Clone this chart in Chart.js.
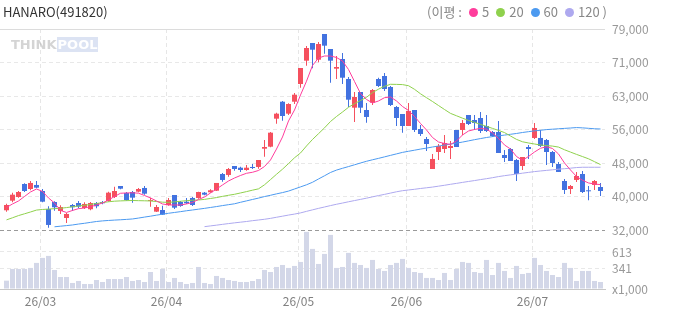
<!DOCTYPE html>
<html>
<head>
<meta charset="utf-8">
<script src="https://cdn.jsdelivr.net/npm/chart.js@4.4.1/dist/chart.umd.min.js"></script>
<style>
html, body { margin: 0; padding: 0; background: #fff; }
#wrap { position: relative; width: 673px; height: 315px; font-family: 'Noto Sans CJK KR', 'Noto Sans', sans-serif; }
#title { position: absolute; left: 3px; top: 2px; font-size: 13px; color: #333; }
#legend { position: absolute; right: 66px; top: 2px; font-size: 13px; color: #888; white-space: nowrap; }
#legend i { display: inline-block; width: 9px; height: 9px; border-radius: 50%; margin: 0 4px 0 7px; }
#logo { position: absolute; left: 11px; top: 37px; font: 900 13px 'DejaVu Sans', sans-serif; opacity: 0.5; }
#logo b { color: #a9a9a9; }
#logo span { color: #fff; background: #b9c8e8; padding: 0 1px; }
</style>
</head>
<body>
<div id="wrap">
    <canvas id="stockChart"></canvas>
    <div id="title">HANARO(491820)</div>
    <div id="legend"></div>
    <div id="logo"><b>THINK</b><span>POOL</span></div>
</div>
<script>
// daily candles, index 0 = first trading day shown
const opens = [36610,38860,39720,42760,41590,42530,41120,36920,38550,36450,
    34810,37850,38320,37150,36850,38320,38550,38790,39720,42290,
    40660,40890,40960,41830,38790,36290,36680,37850,40190,38550,
    38620,39490,39490,40730,40820,41190,45100,44870,46970,46570,
    46030,46740,46740,51010,51480,58030,62000,59200,62000,66140,
    71590,75730,71820,77830,74320,69720,71990,67310,60600,64270,
    60060,61770,67310,68010,65440,60760,59130,56320,60060,55620,
    53280,46270,50240,50940,51180,55390,55390,58890,57720,58190,
    56320,54920,54920,49540,50940,48370,46970,51410,53520,53520,
    53050,50240,47440,43460,41590,43700,45100,41190,42530,42060];
const highs = [38160,40730,41120,42930,43460,43460,41590,37550,38720,37780,
    35980,38090,38790,38480,38550,38550,38790,40960,42130,42290,
    40890,41120,41830,42290,39560,37850,37690,39490,40190,38790,
    39490,39720,40960,40890,41520,43000,45330,46500,46970,46810,
    47200,47440,48370,53050,54920,59430,62170,61630,64040,69880,
    75030,75730,75960,77830,74320,72690,73390,67780,64270,64270,
    61700,64970,67610,68710,65670,61000,59130,61700,60060,56560,
    53750,49780,52110,54220,52810,55390,57720,58890,58890,59590,
    58890,55150,57490,50710,51180,48610,49070,51880,57020,55390,
    53280,50480,47900,43930,42530,45570,45800,42290,43700,43000];
const lows = [36290,38480,39560,40890,41290,41760,38480,32550,36520,35750,
    33640,36450,37080,36920,36610,37080,38020,38620,39490,41520,
    38860,38390,40820,40260,37450,36220,35510,37690,36920,37450,
    38090,37620,39320,40120,40730,41120,43300,44470,45870,45570,
    45870,46270,46340,49140,51340,56860,57560,58890,61470,65280,
    70420,69810,71210,73230,66450,67310,66140,60760,57260,59360,
    57090,61230,65440,64500,61000,56320,54760,56320,54920,53980,
    50480,46270,48370,50010,48610,51410,54220,56560,55390,54690,
    54920,53750,50010,47900,48140,43460,46030,48610,53280,51410,
    47200,46740,45570,40420,40420,43230,40660,38950,41360,39960];
const closes = [37850,40260,40890,41120,43000,41900,38620,33180,37310,37380,
    35750,37310,37450,38090,38320,37550,38250,40730,41120,41660,
    39020,39560,41590,40490,39020,37380,35580,39020,37220,37620,
    38250,37850,40890,40260,41290,43000,43700,46270,46270,46030,
    46570,46500,48370,51410,54760,59200,58660,61470,63640,69880,
    74560,74160,75490,75100,71590,70110,67610,62470,63100,60600,
    58430,64740,65670,64970,61230,58190,56320,59850,55390,54450,
    52110,48610,51650,52350,51650,51410,57020,56790,57020,55150,
    55150,53980,50010,48840,48140,45100,49070,50940,55850,51650,
    50240,47670,45570,41360,42290,44630,40890,41050,43460,41120];

// volume in thousands of shares
const volume = [138,332,332,332,349,432,515,548,315,199,
    199,100,133,83,83,149,116,166,166,166,
    199,133,149,116,282,133,332,116,183,116,
    83,100,365,100,83,216,183,149,133,116,
    116,133,166,315,282,365,398,349,382,448,
    946,664,415,581,896,349,365,598,432,398,
    349,481,332,299,398,432,498,349,282,266,
    183,183,149,266,149,332,448,432,282,266,
    481,232,432,299,183,382,249,266,515,398,
    299,232,199,432,349,133,299,299,133,116];

// moving averages as drawn (null = not shown)
const ma5 = [37270,38090,38790,39840,40890,41590,41010,39490,38320,36570,
    36100,36570,36990,37150,37450,37850,38320,39020,39840,40590,
    40660,40700,40610,40070,39490,38790,38090,37850,37850,37850,
    38090,38440,39140,39720,40660,41590,42530,43460,44160,44750,
    45260,45500,45920,46850,48370,50940,53750,57490,60060,63570,
    66800,70470,72220,72690,72690,72340,71520,69530,66730,63920,
    62520,61700,62170,62940,63100,62170,60880,59950,58540,56910,
    55390,53630,52580,52230,52000,52810,54220,55150,55500,55780,
    55570,54690,53400,51880,50940,49190,48300,49190,50240,51110,
    51460,51060,49780,47670,46030,44510,43630,43000,42760,42600];
const ma20 = [34370,34860,35370,35790,36210,36660,36800,36890,36990,37080,
    37240,37430,37620,37780,37970,38200,38410,38600,38740,38810,
    38860,38900,38860,38830,38790,38650,38510,38460,38580,38720,
    38860,38970,39020,39160,39370,39580,39860,40120,40350,40660,
    40980,41310,41620,42570,43790,45030,46220,47530,48890,50010,
    51650,53170,54520,55880,57370,58540,59590,60690,61540,62280,
    63030,64130,64930,65600,66070,66050,66000,65740,64900,63850,
    62940,62050,61110,60180,59270,58710,58150,57630,57160,56700,
    56230,55760,55290,54780,53980,53190,52630,52350,52110,51880,
    51740,51620,51390,50760,50220,49680,49170,48650,47980,47300];
const ma60 = [null,null,null,null,null,null,null,null,32750,32890,
    33030,33180,33390,33570,33780,33990,34130,34230,34320,34390,
    34480,34580,34790,35020,35230,35470,35700,35910,36100,36290,
    36500,36680,36870,37060,37270,37480,37710,37920,38130,38480,
    38810,39140,39460,39820,40120,40450,40750,41100,41590,42080,
    42570,43160,43930,44680,45450,46010,46430,46830,47250,47670,
    48070,48420,48750,49100,49450,49800,50150,50410,50660,50920,
    51150,51410,51620,51860,52090,52320,52560,52840,53120,53380,
    53630,53840,54030,54190,54380,54570,54800,54990,55180,55320,
    55480,55570,55670,55760,55850,55950,55880,55780,55670,55620];
const ma120 = [null,null,null,null,null,null,null,null,null,null,
    null,null,null,null,null,null,null,null,null,null,
    null,null,null,null,null,null,null,null,null,null,
    null,null,null,32780,32960,33130,33320,33500,33670,33830,
    33990,34180,34340,34510,34720,34980,35230,35490,35720,36000,
    36360,36710,37060,37380,37710,38020,38300,38600,38880,39160,
    39440,39750,40050,40330,40630,40940,41190,41360,41520,41710,
    41870,42040,42250,42460,42690,42900,43130,43350,43560,43790,
    44000,44230,44490,44700,44890,45080,45290,45470,45660,45800,
    45940,46080,46220,46340,46460,46600,46670,46670,46670,46670];

const maPeriods = [5, 20, 60, 120];
const maColors = ['#ff3d9c', '#8fd14d', '#4c9af0', '#aea9ef'];

const priceTickLabels = ['32,000', '40,000', '48,000', '56,000', '63,000', '71,000', '79,000'];
const volTicks = [0, 341, 613];
const volTickLabels = ['x1,000', '341', '613'];
const monthStartIdx = [6, 27, 49, 67, 88];
const monthLabels = ['26/03', '26/04', '26/05', '26/06', '26/07'];

const RED = '#f5505e';
const BLUE = '#4272e0';
const PRICE_MIN = 32000, PRICE_MAX = 79000;
const FONT = "'Noto Sans CJK KR', 'Noto Sans', sans-serif";

document.addEventListener("DOMContentLoaded", function () {

    // legend in the header
    const legend = document.getElementById('legend');
    let html = '(이평 :';
    maPeriods.forEach((p, i) => {
        html += '<i style="background:' + maColors[i] + '"></i>' + p;
    });
    legend.innerHTML = html + ' )';

    const candleColor = (i) => closes[i] >= opens[i] ? RED : BLUE;
    const toPoints = (arr) => arr.map((v, i) => ({ x: i, y: v }));

    const maSets = [ma5, ma20, ma60, ma120].map((arr, k) => ({
        type: 'line',
        data: toPoints(arr),
        yAxisID: 'y',
        borderColor: maColors[k],
        borderWidth: 1,
        pointRadius: 0,
        tension: 0,
        spanGaps: false,
        order: 1
    }));

    const ctx = document.getElementById('stockChart').getContext('2d');

    new Chart(ctx, {
        type: 'bar',
        data: {
            datasets: [
                {
                    // volume
                    data: toPoints(volume),
                    yAxisID: 'yVol',
                    backgroundColor: '#d3d7e8',
                    barThickness: 5,
                    grouped: false,
                    inflateAmount: 0,
                    order: 3
                },
                {
                    // wicks
                    data: highs.map((h, i) => ({ x: i, y: [lows[i], h] })),
                    yAxisID: 'y',
                    backgroundColor: (c) => candleColor(c.dataIndex),
                    barThickness: 1,
                    grouped: false,
                    inflateAmount: 0,
                    order: 2
                },
                {
                    // bodies
                    data: opens.map((o, i) => ({ x: i, y: [o, closes[i]] })),
                    yAxisID: 'y',
                    backgroundColor: (c) => candleColor(c.dataIndex),
                    barThickness: 5,
                    minBarLength: 1,
                    grouped: false,
                    inflateAmount: 0,
                    order: 2
                },
                ...maSets
            ]
        },
        options: {
            responsive: true,
            maintainAspectRatio: false,
            animation: false,
            events: [],
            layout: { padding: { top: 29, left: 0, right: 0, bottom: 0 } },
            plugins: {
                legend: { display: false },
                tooltip: { enabled: false }
            },
            scales: {
                x: {
                    type: 'linear',
                    offset: false,
                    min: -6.5 / 6,
                    max: 99.75,
                    afterBuildTicks: (s) => {
                        s.ticks = monthStartIdx.map(v => ({ value: v - 0.35 }));
                    },
                    afterFit: (s) => { s.height = 26; },
                    ticks: {
                        autoSkip: false,
                        maxRotation: 0,
                        padding: 5,
                        color: '#808080',
                        font: { size: 12, family: FONT },
                        callback: (v, idx) => monthLabels[idx]
                    },
                    grid: { color: '#e6e6e6', drawTicks: false, offset: false },
                    border: { display: true, color: '#c8c8c8', dash: [4, 3] }
                },
                y: {
                    type: 'linear',
                    position: 'right',
                    stack: 'right',
                    stackWeight: 201,
                    min: PRICE_MIN,
                    max: PRICE_MAX,
                    afterBuildTicks: (s) => {
                        const n = priceTickLabels.length;
                        s.ticks = priceTickLabels.map((_, k) => ({ value: PRICE_MIN + k * (PRICE_MAX - PRICE_MIN) / (n - 1) }));
                    },
                    afterFit: (s) => { s.width = 68; },
                    ticks: {
                        autoSkip: false,
                        padding: 7,
                        color: '#999',
                        font: { size: 12, family: FONT },
                        callback: (v, idx) => priceTickLabels[idx]
                    },
                    grid: {
                        drawTicks: false,
                        color: (c) => c.index === 0 ? '#9a9a9a' : (c.index === priceTickLabels.length - 1 ? '#dcdcdc' : '#e8e8e8')
                    },
                    border: {
                        display: false,
                        dash: (c) => c.index === priceTickLabels.length - 1 ? [] : [4, 3]
                    }
                },
                yVol: {
                    type: 'linear',
                    position: 'right',
                    stack: 'right',
                    stackWeight: 59,
                    min: 0,
                    max: 977,
                    afterBuildTicks: (s) => {
                        s.ticks = volTicks.map(v => ({ value: v }));
                    },
                    afterFit: (s) => { s.width = 68; },
                    ticks: {
                        autoSkip: false,
                        padding: 7,
                        color: '#999',
                        font: { size: 12, family: FONT },
                        callback: (v, idx) => volTickLabels[idx]
                    },
                    grid: {
                        drawTicks: false,
                        color: (c) => c.index === 0 ? 'rgba(0,0,0,0)' : '#e8e8e8'
                    },
                    border: { display: false, dash: [4, 3] }
                }
            }
        }
    });
});
</script>
</body>
</html>
